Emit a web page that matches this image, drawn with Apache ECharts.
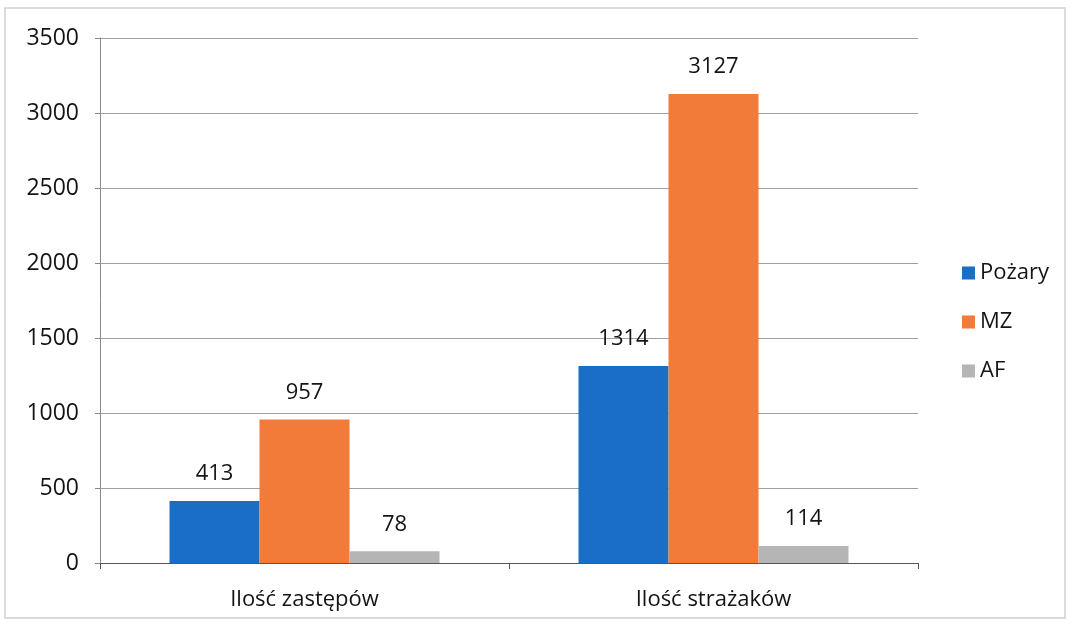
<!DOCTYPE html>
<html><head><meta charset="utf-8">
<script src="https://cdn.jsdelivr.net/npm/echarts@6/dist/echarts.min.js"></script>
<style>html,body{margin:0;padding:0;background:#fff}#c{width:1072px;height:624px}</style>
</head><body><div id="c"></div>
<script>
const categories = ['Ilość zastępów', 'Ilość strażaków'];
const seriesNames = ['Pożary', 'MZ', 'AF'];
const pozary = [413, 1314];
const mz = [957, 3127];
const af = [78, 114];
const colors = ['#1b6ec6', '#f27b3a', '#b5b5b5'];
const font = '"Open Sans", Lato, sans-serif';
const txt = '#141414';

const chart = echarts.init(document.getElementById('c'));
const mk = (name, data, i) => ({
  name, type: 'bar', data, barWidth: 90, barGap: '0%',
  itemStyle: { color: colors[i] },
  label: { show: true, position: 'top', distance: 16, color: txt, fontSize: 22, fontFamily: font }
});
chart.setOption({
  animation: false,
  graphic: [{ type: 'rect', shape: { x: 5, y: 8, width: 1060, height: 610 }, style: { fill: 'none', stroke: '#cfcfcf', lineWidth: 1.5 } }],
  grid: { left: 100, right: 154, top: 38, bottom: 61 },
  legend: {
    orient: 'vertical', left: 957, top: 257, itemWidth: 13, itemHeight: 13, itemGap: 27,
    icon: 'rect',
    textStyle: { fontSize: 22, color: txt, fontFamily: font }
  },
  xAxis: {
    type: 'category', data: categories,
    axisLine: { lineStyle: { color: '#555', width: 1 } },
    axisTick: { show: true, length: 6, lineStyle: { color: '#555' } },
    axisLabel: { fontSize: 22, color: txt, margin: 26, fontFamily: font }
  },
  yAxis: {
    type: 'value', min: 0, max: 3500, interval: 500,
    axisLine: { show: true, lineStyle: { color: '#888' } },
    axisTick: { show: true, length: 5, lineStyle: { color: '#888' } },
    splitLine: { lineStyle: { color: '#a0a0a0' } },
    axisLabel: { fontSize: 23, color: txt, margin: 21, fontFamily: font, formatter: v => String(v) }
  },
  series: [mk(seriesNames[0], pozary, 0), mk(seriesNames[1], mz, 1), mk(seriesNames[2], af, 2)]
});
</script></body></html>
